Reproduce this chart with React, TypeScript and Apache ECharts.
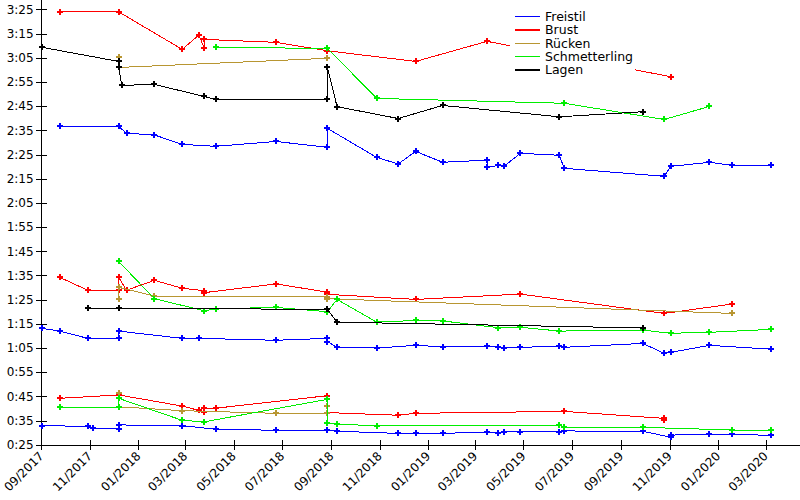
import React, { useEffect, useRef } from "react";
import * as echarts from "echarts";

type Pt = [string, number];

// Times in seconds, dates as yyyy-mm-dd
const freistil50: Pt[] = [
  ["2017-09-02", 33.0], ["2017-10-29", 32.7], ["2017-11-05", 31.9], ["2017-12-07", 31.6], ["2017-12-07", 33.3],
  ["2018-02-25", 33.0], ["2018-04-08", 31.5], ["2018-06-23", 31.1], ["2018-08-27", 31.1], ["2018-09-08", 30.7],
  ["2018-11-24", 29.8], ["2018-12-16", 29.8], ["2019-01-19", 29.8], ["2019-03-16", 30.4], ["2019-03-30", 29.8],
  ["2019-04-06", 30.4], ["2019-04-27", 30.4], ["2019-06-15", 30.4], ["2019-06-21", 30.8], ["2019-09-28", 30.7],
  ["2019-11-02", 28.2], ["2019-11-02", 29.1], ["2019-12-21", 29.4], ["2020-01-19", 29.4], ["2020-03-08", 29.0],
];
const freistil100: Pt[] = [
  ["2017-09-02", 73.2], ["2017-09-24", 72.1], ["2017-10-29", 69.1], ["2017-12-07", 69.1], ["2017-12-07", 72.1],
  ["2018-02-25", 69.1], ["2018-03-18", 69.1], ["2018-06-23", 68.3], ["2018-08-27", 69.1], ["2018-08-27", 67.7],
  ["2018-09-08", 65.4], ["2018-10-28", 65.1], ["2018-12-16", 66.2], ["2019-01-19", 65.6], ["2019-03-16", 65.8],
  ["2019-03-30", 65.4], ["2019-04-06", 65.1], ["2019-04-27", 65.4], ["2019-06-15", 65.8], ["2019-06-21", 65.4],
  ["2019-09-28", 67.0], ["2019-10-25", 62.9], ["2019-11-02", 63.3], ["2019-12-21", 66.2], ["2020-03-08", 64.6],
];
const freistil200: Pt[] = [
  ["2017-09-24", 156.7], ["2017-12-07", 156.7], ["2017-12-17", 153.9], ["2018-01-21", 153.2], ["2018-02-25", 149.3],
  ["2018-04-08", 148.5], ["2018-06-23", 150.5], ["2018-08-27", 148.1], ["2018-08-27", 155.9], ["2018-10-28", 143.9],
  ["2018-11-24", 141.2], ["2018-12-16", 146.4], ["2019-01-19", 141.9], ["2019-03-16", 142.8], ["2019-03-16", 139.8],
  ["2019-03-30", 140.6], ["2019-04-06", 140.2], ["2019-04-27", 145.6], ["2019-06-15", 144.8], ["2019-06-21", 139.4],
  ["2019-10-25", 136.1], ["2019-11-02", 140.2], ["2019-12-21", 141.9], ["2020-01-19", 140.6], ["2020-03-08", 140.6],
];
const brust50: Pt[] = [
  ["2017-09-24", 44.3], ["2017-12-07", 45.7], ["2018-02-25", 41.1], ["2018-03-18", 39.3], ["2018-03-25", 38.8],
  ["2018-03-25", 40.2], ["2018-04-08", 40.2], ["2018-08-27", 45.4], ["2018-08-27", 38.4], ["2018-11-24", 37.3],
  ["2018-12-16", 38.1], ["2019-06-21", 38.9], ["2019-10-25", 36.0], ["2019-10-25", 35.2],
];
const brust100: Pt[] = [
  ["2017-09-24", 94.3], ["2017-10-29", 89.0], ["2017-12-07", 89.0], ["2017-12-07", 94.3], ["2017-12-17", 89.0],
  ["2018-01-21", 93.1], ["2018-02-25", 89.8], ["2018-03-25", 88.8], ["2018-03-25", 88.0], ["2018-06-23", 91.6],
  ["2018-08-27", 88.2], ["2018-08-27", 87.3], ["2018-12-16", 85.2], ["2019-04-27", 87.4], ["2019-10-25", 79.4],
  ["2020-01-19", 83.3],
];
const brust200: Pt[] = [
  ["2017-09-24", 204.1], ["2017-12-07", 204.1], ["2018-02-25", 188.6], ["2018-03-18", 194.5], ["2018-03-25", 189.0],
  ["2018-03-25", 192.7], ["2018-06-23", 191.5], ["2018-08-27", 188.0], ["2018-12-16", 183.6], ["2019-03-16", 191.9],
  ["2019-11-02", 177.3],
];
const ruecken50: Pt[] = [
  ["2017-12-07", 46.4], ["2017-12-07", 40.8], ["2018-02-25", 39.2], ["2018-06-23", 38.1], ["2018-08-27", 38.1],
  ["2018-08-27", 41.1],
];
const ruecken100: Pt[] = [
  ["2017-12-07", 85.5], ["2017-12-07", 90.2], ["2018-01-21", 86.6], ["2018-08-27", 86.3], ["2018-08-27", 85.5],
  ["2020-01-19", 79.4],
];
const ruecken200: Pt[] = [
  ["2017-12-07", 185.3], ["2017-12-07", 181.1], ["2018-08-27", 184.9],
];
const schmetterling50: Pt[] = [
  ["2017-09-24", 40.6], ["2017-12-07", 40.6], ["2017-12-07", 44.3], ["2018-02-25", 35.2], ["2018-03-25", 34.6],
  ["2018-08-27", 43.9], ["2018-08-27", 34.2], ["2018-09-08", 33.7], ["2018-10-28", 32.9], ["2019-06-15", 33.1],
  ["2019-06-21", 32.4], ["2019-09-28", 32.3], ["2020-01-19", 31.2], ["2020-03-08", 31.2],
];
const schmetterling100: Pt[] = [
  ["2017-12-07", 100.9], ["2018-01-21", 85.5], ["2018-03-25", 80.5], ["2018-04-08", 81.3], ["2018-06-23", 81.9],
  ["2018-08-27", 80.1], ["2018-09-08", 85.2], ["2018-10-28", 75.8], ["2018-12-16", 76.5], ["2019-01-19", 76.3],
  ["2019-03-30", 73.5], ["2019-04-27", 73.7], ["2019-06-15", 72.1], ["2019-09-28", 72.5], ["2019-11-02", 71.2],
  ["2019-12-21", 71.6], ["2020-03-08", 72.8],
];
const schmetterling200: Pt[] = [
  ["2018-04-08", 189.4], ["2018-08-27", 189.0], ["2018-10-28", 168.3], ["2019-06-21", 166.3], ["2019-10-25", 159.6],
  ["2019-12-21", 165.0],
];
const lagen100: Pt[] = [
  ["2017-10-29", 81.5], ["2017-12-07", 81.5], ["2018-08-27", 81.1], ["2018-09-08", 75.8], ["2019-09-28", 73.4],
];
const lagen200: Pt[] = [
  ["2017-09-02", 189.4], ["2017-12-07", 183.6], ["2017-12-07", 181.1], ["2017-12-11", 173.7], ["2018-01-21", 174.1],
  ["2018-03-25", 169.1], ["2018-04-08", 167.9], ["2018-08-27", 167.9], ["2018-08-27", 181.1], ["2018-09-08", 164.9],
  ["2018-11-24", 160.0], ["2019-01-19", 165.4], ["2019-06-15", 160.7], ["2019-09-28", 162.8],
];

const legendNames = ["Freistil", "Brust", "Rücken", "Schmetterling", "Lagen"];
const strokeColors: Record<string, string> = {
  Freistil: "#0000ff",
  Brust: "#ff0000",
  "Rücken": "#b89632",
  Schmetterling: "#00ee00",
  Lagen: "#000000",
};
const seriesList: [string, Pt[]][] = [
  ["Freistil", freistil50], ["Freistil", freistil100], ["Freistil", freistil200],
  ["Brust", brust50], ["Brust", brust100], ["Brust", brust200],
  ["Rücken", ruecken50], ["Rücken", ruecken100], ["Rücken", ruecken200],
  ["Schmetterling", schmetterling50], ["Schmetterling", schmetterling100], ["Schmetterling", schmetterling200],
  ["Lagen", lagen100], ["Lagen", lagen200],
];

const yTickSeconds = [25, 35, 45, 55, 65, 75, 85, 95, 105, 115, 125, 135, 145, 155, 165, 175, 185, 195, 205];
const xTickMonths = [
  "2017-09", "2017-11", "2018-01", "2018-03", "2018-05", "2018-07", "2018-09", "2018-11",
  "2019-01", "2019-03", "2019-05", "2019-07", "2019-09", "2019-11", "2020-01", "2020-03",
];
const xStart = "2017-09-01";
const xEnd = "2020-04-13";
const yMin = 25;
const yMax = 209;

const ts = (s: string) => {
  const p = s.split("-").map(Number);
  return new Date(p[0], p[1] - 1, p[2] || 1).getTime();
};
const fmtTime = (v: number) => {
  const m = Math.floor(v / 60);
  const s = Math.round(v - m * 60);
  return `${m}:${String(s).padStart(2, "0")}`;
};
const fmtMonth = (v: number) => {
  const d = new Date(v);
  return `${String(d.getMonth() + 1).padStart(2, "0")}/${d.getFullYear()}`;
};

const plus = "path://M2,0H4V2H6V4H4V6H2V4H0V2H2Z";
const FONT = "DejaVu Sans";

export default function App() {
  const ref = useRef<HTMLDivElement>(null);
  useEffect(() => {
    if (!ref.current) return;
    const chart = echarts.init(ref.current, undefined, { renderer: "svg" });
    const xVals = xTickMonths.map(ts);
    const xBase = {
      type: "value" as const,
      min: ts(xStart),
      max: ts(xEnd),
      splitLine: { show: false },
    };
    const yBase = {
      type: "value" as const,
      min: yMin,
      max: yMax,
      splitLine: { show: false },
    };
    chart.setOption({
      animation: false,
      backgroundColor: "#ffffff",
      grid: { left: 40, right: 0, top: 0, bottom: 55, containLabel: false },
      xAxis: [
        {
          ...xBase,
          position: "bottom",
          axisLine: { show: true, onZero: false, lineStyle: { color: "#000", width: 1 } },
          axisTick: { show: true, length: 5, inside: false, customValues: xVals, lineStyle: { color: "#000" } },
          axisLabel: {
            show: true,
            customValues: xVals,
            formatter: fmtMonth,
            rotate: 45,
            margin: 9,
            color: "#000",
            fontSize: 12,
            fontFamily: FONT,
            hideOverlap: false,
          },
        },
        {
          ...xBase,
          position: "bottom",
          axisLine: { show: false, onZero: false },
          axisTick: { show: true, length: 5, inside: true, customValues: xVals, lineStyle: { color: "#000" } },
          axisLabel: { show: false },
        },
      ],
      yAxis: [
        {
          ...yBase,
          position: "left",
          axisLine: { show: true, onZero: false, lineStyle: { color: "#000", width: 1 } },
          axisTick: { show: true, length: 6, inside: false, customValues: yTickSeconds, lineStyle: { color: "#000" } },
          axisLabel: {
            show: true,
            customValues: yTickSeconds,
            formatter: fmtTime,
            margin: 8,
            color: "#000",
            fontSize: 12,
            fontFamily: FONT,
          },
        },
        {
          ...yBase,
          position: "left",
          axisLine: { show: false, onZero: false },
          axisTick: { show: true, length: 5, inside: true, customValues: yTickSeconds, lineStyle: { color: "#000" } },
          axisLabel: { show: false },
        },
      ],
      legend: {
        data: legendNames,
        orient: "vertical",
        left: 510,
        top: 5,
        padding: [5, 2, 5, 5],
        backgroundColor: "#ffffff",
        icon: "rect",
        itemWidth: 25,
        itemHeight: 1.5,
        itemGap: 0,
        textStyle: { fontFamily: FONT, fontSize: 12.5, lineHeight: 13.3, color: "#000" },
        z: 10,
      },
      series: seriesList.map(([name, pts], i) => ({
        type: "line",
        name,
        xAxisIndex: 0,
        yAxisIndex: 0,
        data: pts.map(([d, v]) => [ts(d), v]),
        symbol: plus,
        symbolSize: 6,
        showSymbol: true,
        showAllSymbol: true,
        color: strokeColors[name],
        lineStyle: { width: 1, color: strokeColors[name] },
        itemStyle: { color: strokeColors[name] },
        emphasis: { disabled: true },
        z: 2 + i * 0.01,
      })),
    });
    return () => chart.dispose();
  }, []);
  return (
    <>
      <style>{`.swim-chart svg path { shape-rendering: crispEdges; }`}</style>
      <div
        ref={ref}
        className="swim-chart"
        style={{ position: "absolute", left: 0, top: 0, width: 800, height: 500 }}
      />
    </>
  );
}
